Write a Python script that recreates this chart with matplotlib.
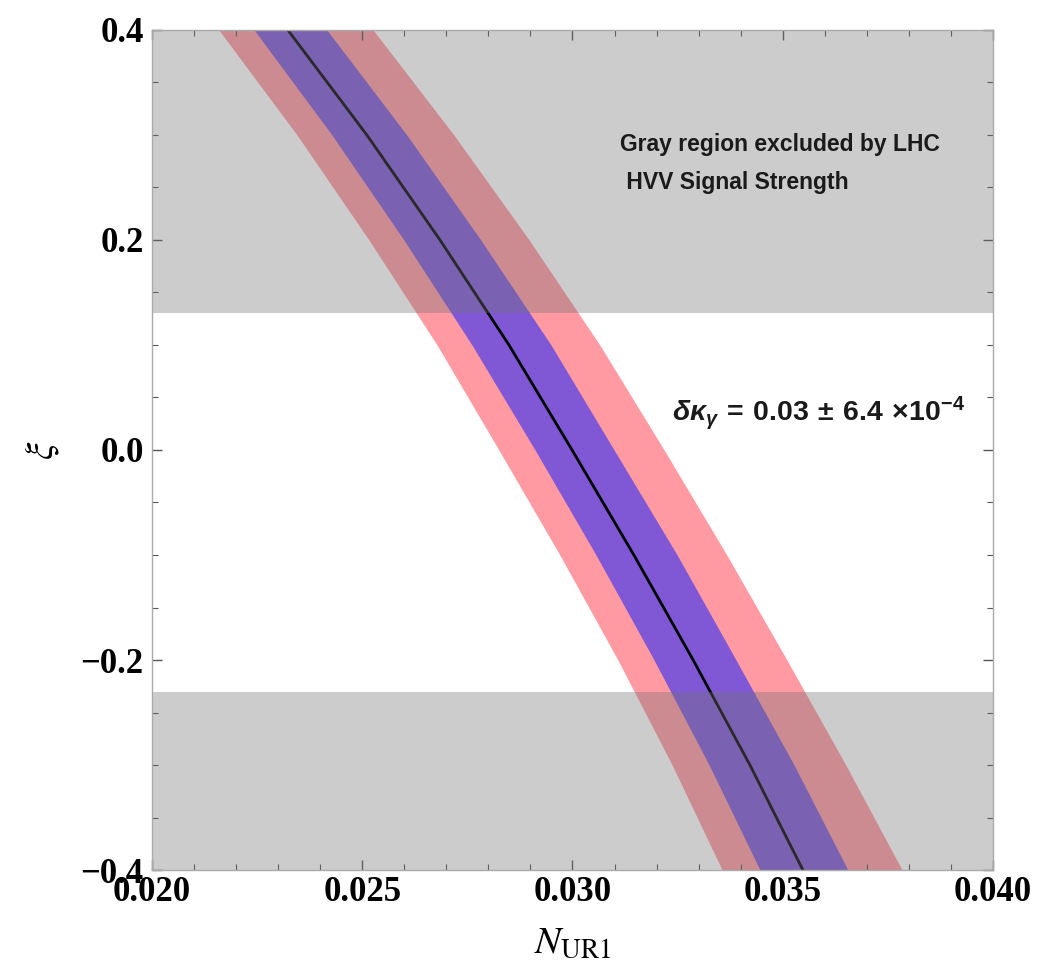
import matplotlib
matplotlib.use("Agg")
import matplotlib.pyplot as plt
from matplotlib.ticker import MultipleLocator, FuncFormatter

# values
xi_pts = [0.4, 0.3, 0.2, 0.1, 0.0, -0.1, -0.2, -0.3, -0.4]
n_center = [0.02323, 0.02511, 0.02685, 0.02849, 0.02999, 0.03146, 0.03287, 0.03422, 0.03548]
n_blue_lo = [0.02243, 0.02428, 0.02599, 0.02761, 0.02911, 0.03056, 0.03194, 0.03325, 0.03446]
n_blue_hi = [0.02416, 0.02606, 0.02782, 0.02949, 0.03099, 0.03249, 0.03389, 0.03527, 0.03655]
n_pink_lo = [0.02159, 0.02345, 0.02516, 0.02678, 0.02825, 0.02970, 0.03108, 0.03237, 0.03356]
n_pink_hi = [0.02526, 0.02718, 0.02897, 0.03065, 0.03218, 0.03367, 0.03510, 0.03650, 0.03784]

excl_upper = (0.13, 0.4)
excl_lower = (-0.4, -0.23)

plt.rcParams['mathtext.fontset'] = 'custom'
plt.rcParams['mathtext.rm'] = 'Liberation Sans:bold'
plt.rcParams['mathtext.it'] = 'Liberation Sans:italic:bold'
plt.rcParams['mathtext.bf'] = 'Liberation Sans:bold'

fig = plt.figure(figsize=(10.46, 9.64), dpi=100)
ax = fig.add_axes([0.1453, 0.0975, 0.804, 0.8714])

ax.fill_betweenx(xi_pts, n_pink_lo, n_pink_hi, color='#ff9aa2', lw=0, zorder=1)
ax.fill_betweenx(xi_pts, n_blue_lo, n_blue_hi, color='#8058d6', lw=0, zorder=2)
ax.plot(n_center, xi_pts, color='black', lw=2.0, zorder=3)

for lo, hi in (excl_upper, excl_lower):
    ax.axhspan(lo, hi, color=(115/255, 115/255, 115/255), alpha=0.366, lw=0, zorder=4)

ax.set_xlim(0.020, 0.040)
ax.set_ylim(-0.4, 0.4)


def fmt(v, dec):
    s = f'{v:.{dec}f}'
    if float(s) == 0:
        s = s.lstrip('-')
    return s.replace('-', '\u2212')


ax.xaxis.set_major_locator(MultipleLocator(0.005))
ax.xaxis.set_minor_locator(MultipleLocator(0.001))
ax.yaxis.set_major_locator(MultipleLocator(0.2))
ax.yaxis.set_minor_locator(MultipleLocator(0.05))
ax.xaxis.set_major_formatter(FuncFormatter(lambda v, p: fmt(v, 3)))
ax.yaxis.set_major_formatter(FuncFormatter(lambda v, p: fmt(v, 1)))

ax.tick_params(which='both', direction='in', top=True, right=True, color='#555555')
ax.tick_params(which='major', length=7, width=1)
ax.tick_params(which='minor', length=4, width=0.8)
ax.tick_params(axis='x', pad=4)
ax.tick_params(axis='y', pad=6)
for lab in ax.get_xticklabels() + ax.get_yticklabels():
    lab.set_family('Liberation Serif')
    lab.set_fontweight('bold')
    lab.set_fontsize(25)

for sp in ax.spines.values():
    sp.set_color('#aaaaaa')
    sp.set_linewidth(1)
    sp.set_zorder(5)

ax.set_xlabel(r'$\mathit{N}_{\mathrm{UR1}}$', fontsize=28, math_fontfamily='stix', labelpad=10)
ax.set_ylabel(r'$\xi$', fontsize=28, math_fontfamily='stix', labelpad=14)

ax.text(0.03113, 0.273, 'Gray region excluded by LHC\n HVV Signal Strength',
        fontsize=16.5, fontweight='bold', family='Liberation Sans',
        va='center', ha='left', linespacing=1.85, color='#1a1a1a', zorder=6)
ax.text(0.03237, 0.035, r'$\delta\kappa_\gamma\,=\,0.03\,\pm\,6.4\,\times\!10^{-4}$',
        fontsize=20.5, va='center', ha='left', color='#1a1a1a', zorder=6)

fig.savefig('out.png', dpi=100)
